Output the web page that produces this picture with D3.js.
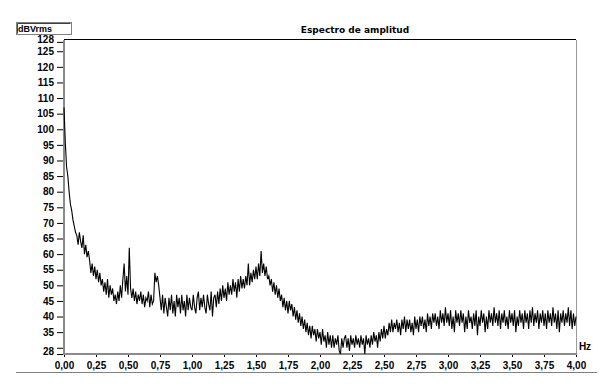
<!DOCTYPE html>
<html>
<head>
<meta charset="utf-8">
<script src="https://cdn.jsdelivr.net/npm/d3@7"></script>
<style>
  body { margin: 0; background: #fff; }
  svg text { font-family: "Liberation Sans", Arial, sans-serif; font-weight: bold; fill: #000; }
</style>
</head>
<body>
<svg id="chart" width="614" height="392"></svg>
<script>
// spectrum, one value every 0.01 Hz from 0,00 to 4,00 (dBVrms)
const freqStep = 0.01;
const amplitude = [
  107, 96, 88, 85, 80, 76, 74, 71, 69, 67,
  66, 63, 67, 64, 62, 66, 60, 63, 59, 61,
  58, 54, 57, 53, 56, 52, 55, 51, 54, 50,
  52, 48, 51, 47, 52, 46, 50, 47, 49, 45,
  47, 44, 48, 45, 50, 46, 52, 57, 48, 53,
  47, 62, 49, 46, 49, 45, 48, 44, 47, 45,
  48, 44, 47, 43, 46, 45, 48, 43, 47, 44,
  45, 54, 51, 53, 50, 46, 42, 47, 41, 46,
  43, 40, 46, 42, 47, 41, 45, 40, 47, 43,
  46, 41, 47, 42, 45, 40, 47, 42, 46, 43,
  42, 47, 43, 41, 46, 48, 42, 46, 43, 47,
  43, 41, 47, 44, 42, 48, 40, 46, 47, 43,
  48, 44, 49, 45, 50, 46, 49, 45, 51, 47,
  50, 47, 52, 48, 51, 46, 52, 48, 53, 49,
  52, 49, 53, 50, 57, 50, 54, 51, 55, 52,
  56, 52, 57, 53, 61, 54, 57, 53, 56, 52,
  53, 50, 52, 48, 51, 47, 50, 46, 49, 45,
  47, 43, 46, 42, 45, 41, 45, 42, 44, 40,
  43, 39, 42, 38, 41, 37, 40, 36, 39, 35,
  38, 34, 37, 33, 37, 34, 36, 32, 36, 33,
  35, 31, 36, 32, 34, 30, 35, 31, 34, 30,
  34, 30, 33, 31, 34, 29, 28, 33, 30, 33,
  34, 30, 33, 29, 34, 31, 33, 30, 34, 31,
  33, 30, 34, 31, 33, 28, 34, 31, 33, 30,
  34, 31, 35, 32, 34, 30, 35, 32, 36, 33,
  37, 33, 36, 34, 38, 35, 39, 35, 38, 36,
  39, 35, 38, 34, 39, 36, 40, 35, 39, 36,
  39, 35, 38, 34, 40, 36, 39, 35, 40, 37,
  40, 36, 39, 35, 41, 37, 40, 36, 41, 38,
  41, 37, 40, 36, 42, 38, 41, 37, 43, 38,
  41, 37, 42, 36, 40, 35, 42, 38, 41, 37,
  42, 38, 41, 35, 40, 36, 42, 38, 40, 36,
  41, 37, 42, 34, 40, 37, 42, 38, 41, 35,
  40, 36, 42, 38, 41, 37, 43, 38, 41, 37,
  42, 36, 41, 38, 42, 37, 40, 36, 42, 38,
  41, 37, 42, 35, 40, 37, 42, 38, 41, 36,
  42, 38, 41, 36, 42, 38, 43, 37, 41, 38,
  42, 36, 41, 38, 42, 37, 41, 36, 42, 38,
  41, 37, 43, 38, 41, 36, 42, 35, 41, 38,
  42, 37, 41, 38, 43, 37, 42, 36, 41, 37,
  40
];
const xTickValues = [0, 0.25, 0.5, 0.75, 1, 1.25, 1.5, 1.75, 2, 2.25, 2.5, 2.75, 3, 3.25, 3.5, 3.75, 4];
const yTickValues = [28, 30, 35, 40, 45, 50, 55, 60, 65, 70, 75, 80, 85, 90, 95, 100, 105, 110, 115, 120, 125, 128];
const yHiddenLabels = [30];

const svg = d3.select('#chart');
const plotLeft = 64, plotRight = 576, plotTop = 40, plotBottom = 354;

const x = d3.scaleLinear().domain([0, 4]).range([plotLeft, plotRight]);
const y = d3.scaleLinear().domain([28, 128.6]).range([plotBottom, plotTop]);

const fmt = d => d.toFixed(2).replace('.', ',');

// title
svg.append('text')
  .attr('x', 355)
  .attr('y', 33)
  .attr('text-anchor', 'middle')
  .style('font-family', '"DejaVu Sans", sans-serif')
  .style('font-size', '9px')
  .text('Espectro de amplitud');

// unit box
svg.append('rect')
  .attr('x', 16.5).attr('y', 22.5)
  .attr('width', 55).attr('height', 12)
  .attr('fill', '#fff')
  .attr('stroke', '#808080');
svg.append('path')
  .attr('d', 'M17.5,33.5 V23.5 H70.5')
  .attr('fill', 'none')
  .attr('stroke', '#404040');
svg.append('text')
  .attr('x', 18)
  .attr('y', 32)
  .style('font-size', '9px')
  .text('dBVrms');

// frame
svg.append('line')
  .attr('x1', plotLeft).attr('x2', plotRight)
  .attr('y1', plotTop - 0.5).attr('y2', plotTop - 0.5)
  .attr('stroke', '#000');
svg.append('line')
  .attr('x1', plotRight + 0.5).attr('x2', plotRight + 0.5)
  .attr('y1', plotTop).attr('y2', plotBottom)
  .attr('stroke', '#9a9a9a');

// y axis
const yAxis = svg.append('g')
  .attr('transform', `translate(${plotLeft - 1},0)`)
  .call(d3.axisLeft(y)
    .tickValues(yTickValues)
    .tickSize(6)
    .tickPadding(3)
    .tickFormat(d => yHiddenLabels.includes(d) ? '' : d));
yAxis.select('.domain').remove();
yAxis.selectAll('.tick line').attr('stroke', '#000');
yAxis.selectAll('text').style('font-size', '10px');
// end labels sit a little inside their ticks
yAxis.selectAll('.tick text')
  .filter(d => d === 128)
  .attr('y', -2.5);
yAxis.selectAll('.tick text')
  .filter(d => d === 28)
  .attr('y', -3);
svg.append('line')
  .attr('x1', plotLeft).attr('x2', plotLeft)
  .attr('y1', plotTop).attr('y2', plotBottom + 1)
  .attr('stroke', '#8a8a8a')
  .attr('stroke-width', 2);

// x axis
const xAxis = svg.append('g')
  .attr('transform', `translate(0,${plotBottom + 1})`)
  .call(d3.axisBottom(x)
    .tickValues(xTickValues)
    .tickSize(2)
    .tickPadding(5)
    .tickFormat(fmt));
xAxis.select('.domain').remove();
xAxis.selectAll('.tick line').attr('stroke', '#000');
xAxis.selectAll('text').style('font-size', '10px');
svg.append('line')
  .attr('x1', plotLeft).attr('x2', plotRight + 1)
  .attr('y1', plotBottom).attr('y2', plotBottom)
  .attr('stroke', '#8a8a8a')
  .attr('stroke-width', 2);

svg.append('text')
  .attr('x', 585)
  .attr('y', 350)
  .attr('text-anchor', 'middle')
  .style('font-size', '10px')
  .text('Hz');

// separator under the scale
svg.append('line')
  .attr('x1', 16).attr('x2', 597)
  .attr('y1', 372.5).attr('y2', 372.5)
  .attr('stroke', '#808080');

// spectrum trace
const line = d3.line()
  .x((d, i) => x(i * freqStep))
  .y(d => y(d));

svg.append('path')
  .datum(amplitude)
  .attr('fill', 'none')
  .attr('stroke', '#000')
  .attr('stroke-width', 1.1)
  .attr('d', line);
</script>
</body>
</html>
